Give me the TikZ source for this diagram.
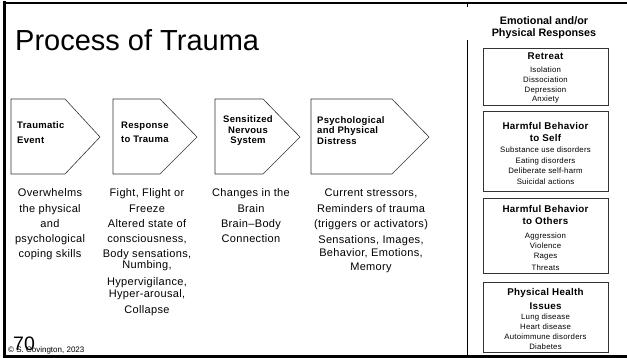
\documentclass[tikz,border=0pt]{standalone}
\usepackage{fontspec}
\setmainfont{Liberation Sans}
\newfontfamily\spaced{Liberation Sans}[LetterSpace=3.0]

\begin{document}
\begin{tikzpicture}
    [x=1pt,y=-1pt,inner sep=0pt,
     stage/.style={draw=black!80,line width=0.6pt},
     steptext/.style={font=\spaced\bfseries\fontsize{9.5}{11}\selectfont,anchor=base west},
     stepmid/.style={font=\spaced\bfseries\fontsize{9.5}{11}\selectfont,anchor=base},
     bodytext/.style={font=\spaced\fontsize{11}{15}\selectfont,anchor=base},
     resphead/.style={font=\bfseries\fontsize{10.8}{12}\selectfont,anchor=base},
     respbox/.style={draw=black!80,line width=0.8pt},
     boxtitle/.style={font=\spaced\bfseries\fontsize{9.8}{12}\selectfont,anchor=base},
     boxitem/.style={font=\spaced\fontsize{7.8}{10}\selectfont,anchor=base}]
    \useasboundingbox (0,0) rectangle (627,358);
    %frame
    \draw[line width=2.5pt](2.5,3)--(627,3);
    \draw[line width=3pt](4,1.5)--(4,358);
    \draw[line width=3pt](2.5,356)--(627,356);
    \draw[line width=0.8pt](467,3)--(467,7);
    \draw[line width=0.8pt](467,40)--(467,356);
    %title
    \node[anchor=base west,font=\fontsize{29}{32}\selectfont] (title) at (15,51) {Process of Trauma};
    %stages
    \draw[stage] (11,99)--(65,99)--(100,137)--(65,174)--(11,174)--cycle;
    \draw[stage] (113,99)--(160,99)--(197,137)--(160,174)--(113,174)--cycle;
    \draw[stage] (215,99)--(263,99)--(300,137)--(263,174)--(215,174)--cycle;
    \draw[stage] (311,99)--(392,99)--(429,137)--(392,174)--(311,174)--cycle;
    \node[steptext] (s1a) at (17,129) {Traumatic};
    \node[steptext] (s1b) at (17,143.5) {Event};
    \node[steptext] (s2a) at (121,128.5) {Response};
    \node[steptext] (s2b) at (121,143) {to Trauma};
    \node[stepmid] (s3a) at (248,122.5) {Sensitized};
    \node[stepmid] (s3b) at (248,133.5) {Nervous};
    \node[stepmid] (s3c) at (248,144) {System};
    \node[steptext] (s4a) at (317,123.5) {Psychological};
    \node[steptext] (s4b) at (317,134) {and Physical};
    \node[steptext] (s4c) at (317,145) {Distress};
    %first column
    \node[bodytext] (c1a) at (50,197) {Overwhelms};
    \node[bodytext] (c1b) at (50,212.5) {the physical};
    \node[bodytext] (c1c) at (50,227.5) {and};
    \node[bodytext] (c1d) at (50,242.5) {psychological};
    \node[bodytext] (c1e) at (50,257.5) {coping skills};
    %second column
    \node[bodytext] (c2a) at (147,197) {Fight, Flight or};
    \node[bodytext] (c2b) at (147,212.5) {Freeze};
    \node[bodytext] (c2c) at (147,227.5) {Altered state of};
    \node[bodytext] (c2d) at (147,242.5) {consciousness,};
    \node[bodytext] (c2e) at (147,257.5) {Body sensations,};
    \node[bodytext] (c2f) at (147,269) {Numbing,};
    \node[bodytext] (c2g) at (147,285.5) {Hypervigilance,};
    \node[bodytext] (c2h) at (147,297.5) {Hyper-arousal,};
    \node[bodytext] (c2i) at (147,314) {Collapse};
    %third column
    \node[bodytext] (c3a) at (251,197) {Changes in the};
    \node[bodytext] (c3b) at (251,212.5) {Brain};
    \node[bodytext] (c3c) at (251,227.5) {Brain–Body};
    \node[bodytext] (c3d) at (251,242.5) {Connection};
    %fourth column
    \node[bodytext] (c4a) at (371,197) {Current stressors,};
    \node[bodytext] (c4b) at (371,213) {Reminders of trauma};
    \node[bodytext] (c4c) at (371,227.5) {(triggers or activators)};
    \node[bodytext] (c4d) at (371,243.5) {Sensations, Images,};
    \node[bodytext] (c4e) at (371,256.5) {Behavior, Emotions,};
    \node[bodytext] (c4f) at (371,270.5) {Memory};
    %responses
    \node[resphead] (h1) at (544,24.3) {Emotional and/or};
    \node[resphead] (h2) at (544,36.7) {Physical Responses};
    \draw[respbox] (483,48) rectangle (608,105);
    \node[boxtitle] (r0) at (545.5,60) {Retreat};
    \node[boxitem] (r1) at (545.5,73) {Isolation};
    \node[boxitem] (r2) at (545.5,82.7) {Dissociation};
    \node[boxitem] (r3) at (545.5,92.5) {Depression};
    \node[boxitem] (r4) at (545.5,102) {Anxiety};
    \draw[respbox] (483,111) rectangle (608,191);
    \node[boxtitle] (s0) at (545.5,129.3) {Harmful Behavior};
    \node[boxtitle] (s00) at (545.5,141.7) {to Self};
    \node[boxitem] (s1) at (545.5,153) {Substance use disorders};
    \node[boxitem] (s2) at (545.5,163.4) {Eating disorders};
    \node[boxitem] (s3) at (545.5,174) {Deliberate self-harm};
    \node[boxitem] (s4) at (545.5,184.3) {Suicidal actions};
    \draw[respbox] (483,198) rectangle (608,273);
    \node[boxtitle] (o0) at (545.5,212.7) {Harmful Behavior};
    \node[boxtitle] (o00) at (545.5,224.3) {to Others};
    \node[boxitem] (o1) at (545.5,238.4) {Aggression};
    \node[boxitem] (o2) at (545.5,248.3) {Violence};
    \node[boxitem] (o3) at (545.5,259) {Rages};
    \node[boxitem] (o4) at (545.5,270.5) {Threats};
    \draw[respbox] (483,282) rectangle (608,352);
    \node[boxtitle] (p0) at (545.5,296) {Physical Health};
    \node[boxtitle] (p00) at (545.5,309) {Issues};
    \node[boxitem] (p1) at (545.5,319.7) {Lung disease};
    \node[boxitem] (p2) at (545.5,329.7) {Heart disease};
    \node[boxitem] (p3) at (545.5,339.5) {Autoimmune disorders};
    \node[boxitem] (p4) at (545.5,349.5) {Diabetes};
    %footer
    \node[anchor=base west,font=\fontsize{19.5}{20}\selectfont] (page) at (13,350) {70};
    \node[anchor=base west,font=\fontsize{8}{9}\selectfont] (credit) at (8,352.5) {\textcopyright{} S. Covington, 2023};
\end{tikzpicture}
\end{document}
